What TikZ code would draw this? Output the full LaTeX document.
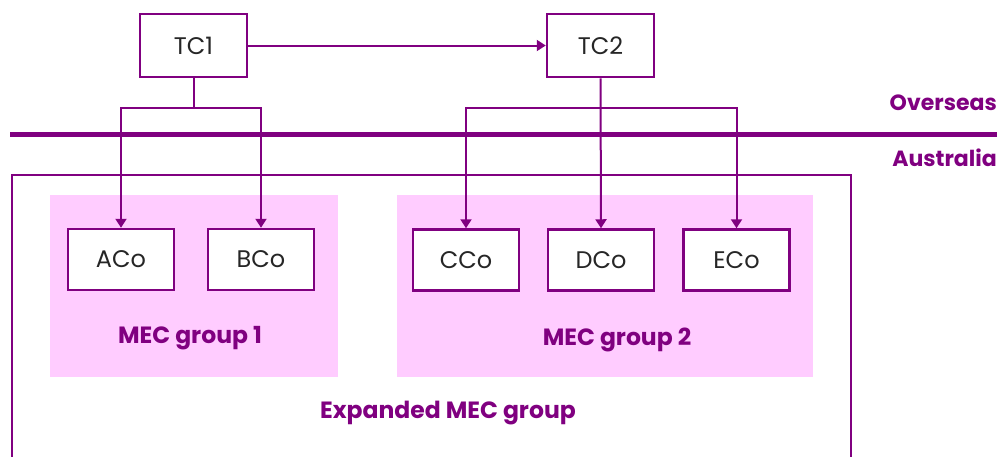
\documentclass[tikz,border=0pt]{standalone}
\usepackage{fontspec}
\setmainfont{Poppins}
\usetikzlibrary{arrows.meta}
\definecolor{mecpurple}{HTML}{800080}
\definecolor{mecpink}{HTML}{FFCCFF}
\tikzset{
  cobox/.style={draw=mecpurple, line width=2.5pt, fill=white, minimum width=106pt, minimum height=61pt, inner sep=0pt, font=\fontsize{24}{28}\selectfont, text=black!85},
  tcbox/.style={cobox, minimum width=107pt, minimum height=63pt},
  conn/.style={draw=mecpurple, line width=2pt},
  arr/.style={conn, -{Triangle[length=9pt,width=11pt]}},
  grouplbl/.style={text=mecpurple, font=\bfseries\fontsize{23.5}{28}\selectfont, inner sep=0pt},
  sidelbl/.style={grouplbl, font=\bfseries\fontsize{22}{26}\selectfont},
  grp/.style={fill=mecpink, draw=none},
}
\begin{document}
\begin{tikzpicture}[x=1pt,y=-1pt]
\useasboundingbox (0,0) rectangle (1000,456);
% outer expanded group box (open at bottom)
\draw[mecpurple, line width=2pt] (12,457) -- (12,175) -- (851,175) -- (851,457);
% pink group areas
\fill[grp] (50,195) rectangle (338,377);
\fill[grp] (397,195) rectangle (813,377);
% border line
\draw[mecpurple, line width=5pt] (10,134) -- (997,134);
\node[sidelbl, anchor=east] (over) at (997,103) {Overseas};
\node[sidelbl, anchor=east] (aus) at (997,158) {Australia};
% boxes
\node[tcbox] (tc1) at (193.5,45.5) {TC1};
\node[tcbox] (tc2) at (600.5,45.5) {TC2};
\node[cobox] (aco) at (121,259.5) {ACo};
\node[cobox] (bco) at (261,259.5) {BCo};
\node[cobox] (cco) at (466,260) {CCo};
\node[cobox] (dco) at (601,260) {DCo};
\node[cobox] (eco) at (736.5,260) {ECo};
% labels
\node[grouplbl] (g1) at (190,338) {MEC group 1};
\node[grouplbl] (g2) at (617,340) {MEC group 2};
\node[grouplbl] (g3) at (448,413) {Expanded MEC group};
% connectors
\draw[arr] (tc1.east) -- (tc2.west);
\coordinate (b1) at (tc1.south |- 0,108);
\coordinate (b2) at (dco.north |- 0,108);
\draw[conn] (tc1.south) -- (b1);
\draw[arr] (b1) -| (aco.north);
\draw[arr] (b1) -| (bco.north);
\draw[arr] (tc2.south) -- (dco.north);
\draw[arr] (b2) -| (cco.north);
\draw[arr] (b2) -| (eco.north);
\end{tikzpicture}
\end{document}
